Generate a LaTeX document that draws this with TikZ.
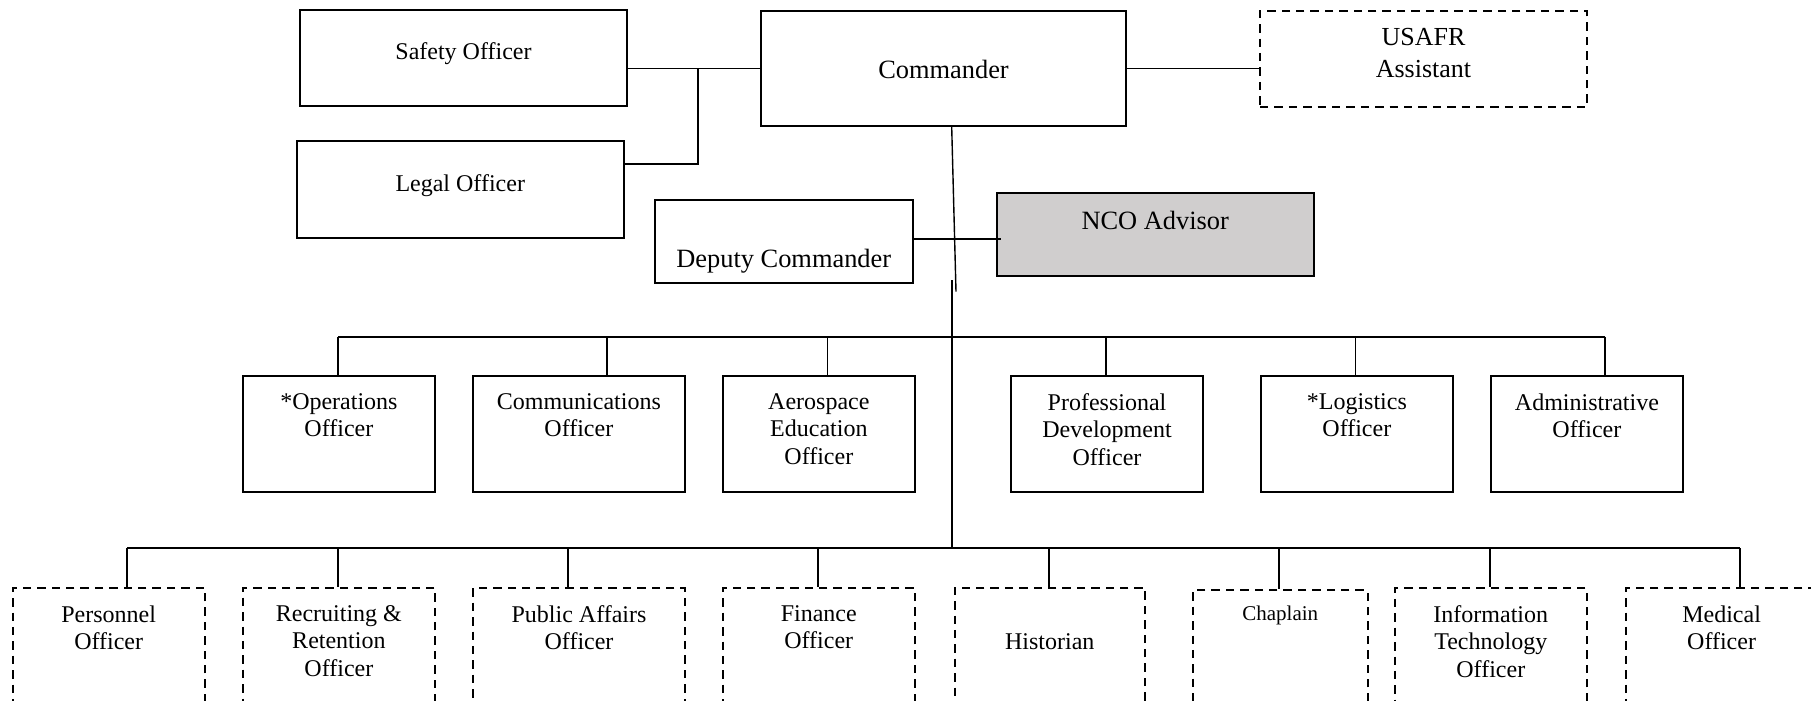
\documentclass[tikz,border=0pt]{standalone}
\usepackage{fontspec}
\setmainfont{Liberation Serif}
\definecolor{ncogray}{RGB}{208,206,206}
\begin{document}
\begin{tikzpicture}[x=0.5pt,y=-0.5pt,
  unit/.style={draw=black, line width=1pt, inner sep=0pt, anchor=north west, fill=white},
  sz/.style 2 args={minimum width={#1*0.5pt}, minimum height={#2*0.5pt}},
  solidbox/.style={unit},
  dashbox/.style={unit, dash pattern=on 4.2pt off 3pt},
  advisorbox/.style={unit, fill=ncogray},
  wire/.style={line width=0.95pt},
  spine/.style={line width=0.7pt},
  lbl/.style={inner sep=0pt, anchor=north, align=center, font=\fontsize{12}{13.8}\selectfont},
  biglbl/.style={lbl, font=\fontsize{13.2}{16}\selectfont},
  smalllbl/.style={lbl, font=\fontsize{10.5}{12.5}\selectfont}
]
\useasboundingbox (0,0) rectangle (1811,701);

% ---- command group ----
\node[solidbox, sz={327}{96}]    (safety) at (299,9) {};
\node[solidbox, sz={327.5}{97}]  (legal)  at (295.5,140) {};
\node[solidbox, sz={365}{115}]   (cmd)    at (760,10) {};
\node[dashbox,  sz={327}{96}]    (usafr)  at (1259,10) {};
\node[solidbox, sz={257.5}{83}]  (deputy) at (654,199) {};
\node[advisorbox, sz={316.5}{83}] (nco)   at (996,192) {};

\node[lbl]    (safetyT) at (safety.north |- 0,42)  {Safety Officer};
\node[lbl]    (legalT)  at (legal.north |- 0,174)  {Legal Officer};
\node[biglbl] (cmdT)    at (cmd.north |- 0,60)     {Commander};
\node[lbl, font=\fontsize{13}{16}\selectfont] (usafrT) at (usafr.north |- 0,28) {USAFR\\Assistant};
\node[biglbl] (deputyT) at (deputy.north |- 0,249) {Deputy Commander};
\node[biglbl] (ncoT)    at (nco.north |- 0,210.7)  {NCO Advisor};

% ---- staff officers ----
\foreach \name/\x/\w in {ops/241.8/192.2, comm/472/211.7, aero/722/191.7,
                         prof/1010/192, logi/1259.7/192.3, adm/1489.8/192.2}
  \node[solidbox, sz={\w}{116}] (\name) at (\x,375) {};

\coordinate (rowA) at (0,393);
\node[lbl] (opsT)  at (ops.north |- rowA)  {*Operations\\Officer};
\node[lbl] (commT) at (comm.north |- rowA) {Communications\\Officer};
\node[lbl] (aeroT) at (aero.north |- rowA) {Aerospace\\Education\\Officer};
\node[lbl] (profT) at (prof.north |- rowA) {Professional\\Development\\Officer};
\node[lbl] (logiT) at (logi.north |- rowA) {*Logistics\\Officer};
\node[lbl] (admT)  at (adm.north |- rowA)  {Administrative\\Officer};

% ---- support officers (optional posts) ----
\foreach \name/\x/\w/\y in {pers/11.7/192/586.7, recr/241.8/192.2/586.7, pub/472.4/211.3/586.7,
                            fin/721.8/191.9/586.7, hist/953.5/190.5/586.7, chap/1192/174.6/589.3,
                            it/1394/191.6/586.7, med/1624.6/192/586.7}
  \node[dashbox, sz={\w}{124}] (\name) at (\x,\y) {};

\coordinate (rowB) at (0,605);
\node[lbl] (persT) at (pers.north |- rowB) {Personnel\\Officer};
\node[lbl] (recrT) at (recr.north |- rowB) {Recruiting \&\\Retention\\Officer};
\node[lbl] (pubT)  at (pub.north |- rowB)  {Public Affairs\\Officer};
\node[lbl] (finT)  at (fin.north |- rowB)  {Finance\\Officer};
\node[lbl] (histT) at (hist.north |- 0,633) {Historian};
\node[smalllbl] (chapT) at (chap.north |- 0,606) {Chaplain};
\node[lbl] (itT)   at (it.north |- rowB)   {Information\\Technology\\Officer};
\node[lbl] (medT)  at (med.north |- rowB)  {Medical\\Officer};

% ---- connectors ----
\coordinate (sj) at (698,164);
\draw[wire] (safety.east |- cmd.west) -- (cmd.west);
\draw[wire] (sj |- cmd.west) -- (sj) -- (sj -| legal.east);
\draw[wire] (cmd.east) -- (usafr.west |- cmd.east);

\coordinate (dn) at (0,239.3);
\draw[wire] (deputy.east |- dn) -- ([xshift=2.5pt]nco.west |- dn);

% spine from the commander down to both rows
\coordinate (spA) at (951.7,125);
\coordinate (spB) at (956,291.7);
\coordinate (spC) at (952.3,280);
\coordinate (lowbus) at (0,548.3);
\draw[spine] (spA |- cmd.south) -- (spB);
\draw[wire] (spC) -- (spC |- lowbus);

% upper branch
\foreach \name/\x in {ops/338, comm/607, aero/827.5, prof/1105.7, logi/1355.5, adm/1605.4}
  \coordinate (tap-\name) at (\x,336.7);
\draw[wire] (tap-ops) -- (tap-adm);
\foreach \name in {ops, comm, aero, prof, logi, adm}
  \draw[wire] (tap-\name) -- (tap-\name |- \name.north);

% lower branch
\foreach \name/\x in {pers/127, recr/338, pub/568, fin/818, hist/1048.7, chap/1279, it/1490, med/1739.6}
  \coordinate (tap-\name) at (\x,548.3);
\draw[wire] (tap-pers) -- (tap-med);
\foreach \name in {pers, recr, pub, fin, hist, chap, it, med}
  \draw[wire] (tap-\name) -- (tap-\name |- \name.north);
\end{tikzpicture}
\end{document}
